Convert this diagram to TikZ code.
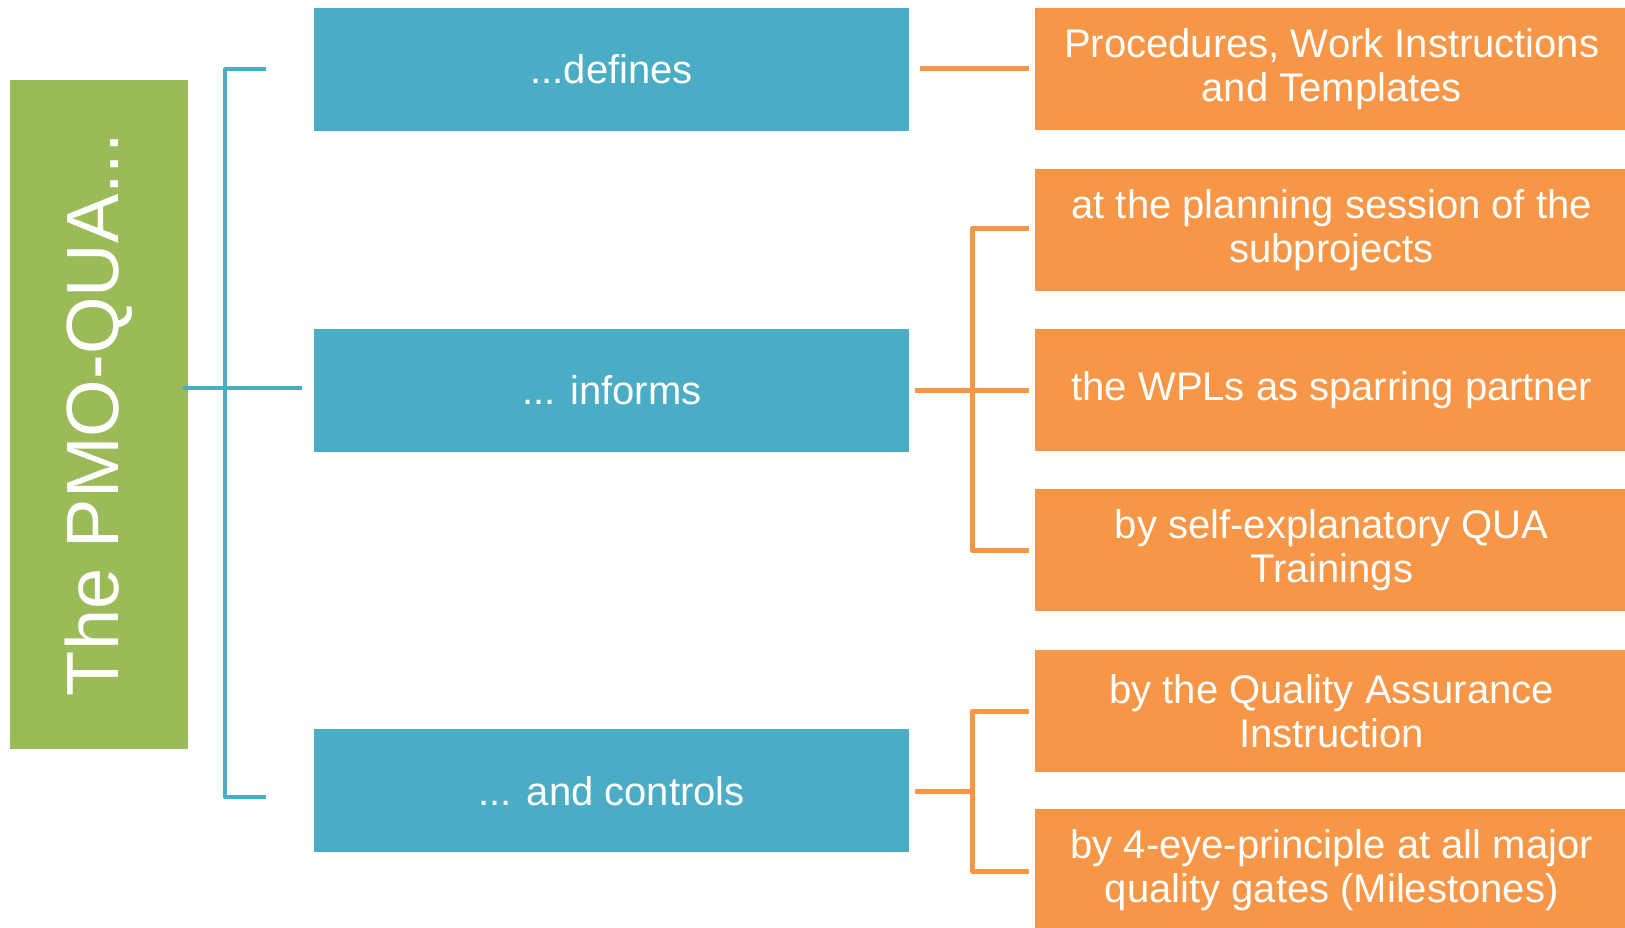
\documentclass[tikz,border=0pt]{standalone}
\usepackage{fontspec}
\setmainfont{Liberation Sans}
\definecolor{qblue}{HTML}{4BACC6}
\definecolor{qorange}{HTML}{F79646}
\definecolor{qgreen}{HTML}{9BBB59}
\begin{document}
\begin{tikzpicture}[x=1pt,y=-1pt,
  box/.style={rectangle, inner sep=0pt, text=white, align=center,
    font=\fontsize{40}{43.5}\selectfont},
  bluebox/.style={box, anchor=north west, fill=qblue, minimum width=595pt, minimum height=123pt},
  orangebox/.style={box, anchor=north west, fill=qorange, minimum width=593pt, minimum height=122pt},
  blueline/.style={draw=qblue, line width=4pt, line join=round},
  orangeline/.style={draw=qorange, line width=5pt, line join=round}]
\useasboundingbox (0,0) rectangle (1625,928);

% title block
\node[box, fill=qgreen, rotate=90, minimum width=669pt, minimum height=178pt,
      font=\fontsize{74}{80}\selectfont] (pmo) at (99,414.5) {The PMO-QUA...};

% activities
\node[bluebox] (def) at (314,8)   {...defines};
\node[bluebox] (inf) at (314,329) {... informs};
\node[bluebox] (ctl) at (314,729) {... and controls};

% details
\node[orangebox] (o1) at (1035,8)   {Procedures, Work Instructions\\and Templates};
\node[orangebox] (o2) at (1035,169) {at the planning session of the\\subprojects};
\node[orangebox] (o3) at (1035,329) {the WPLs as sparring partner};
\node[orangebox] (o4) at (1035,489) {by self-explanatory QUA\\Trainings};
\node[orangebox] (o5) at (1035,650) {by the Quality Assurance\\Instruction};
\node[orangebox] (o6) at (1035,809) {by 4-eye-principle at all major\\quality gates (Milestones)};

% left bracket
\coordinate (lt)  at (266,69);
\coordinate (ltc) at (225,69);
\coordinate (lbc) at (225,797);
\coordinate (lb)  at (266,797);
\coordinate (lm0) at (183,388);
\coordinate (lm)  at (302,388);
\draw[blueline] (lt) -- (ltc) -- (lbc) -- (lb);
\draw[blueline] (lm0) -- (lm);

% defines -> o1
\coordinate (a0) at (920,69);
\coordinate (a1) at (1029,69);
\draw[orangeline] (a0) -- (a1);

% informs -> o2, o3, o4
\coordinate (b0)  at (915,390);
\coordinate (b1)  at (1029,390);
\coordinate (bt)  at (1029,229);
\coordinate (btc) at (972,229);
\coordinate (bbc) at (972,550);
\coordinate (bb)  at (1029,550);
\draw[orangeline] (b0) -- (b1);
\draw[orangeline] (bt) -- (btc) -- (bbc) -- (bb);

% controls -> o5, o6
\coordinate (c0)  at (915,791);
\coordinate (c1)  at (972,791);
\coordinate (ct)  at (1029,711);
\coordinate (ctc) at (972,711);
\coordinate (cbc) at (972,871);
\coordinate (cb)  at (1029,871);
\draw[orangeline] (c0) -- (c1);
\draw[orangeline] (ct) -- (ctc) -- (cbc) -- (cb);
\end{tikzpicture}
\end{document}
